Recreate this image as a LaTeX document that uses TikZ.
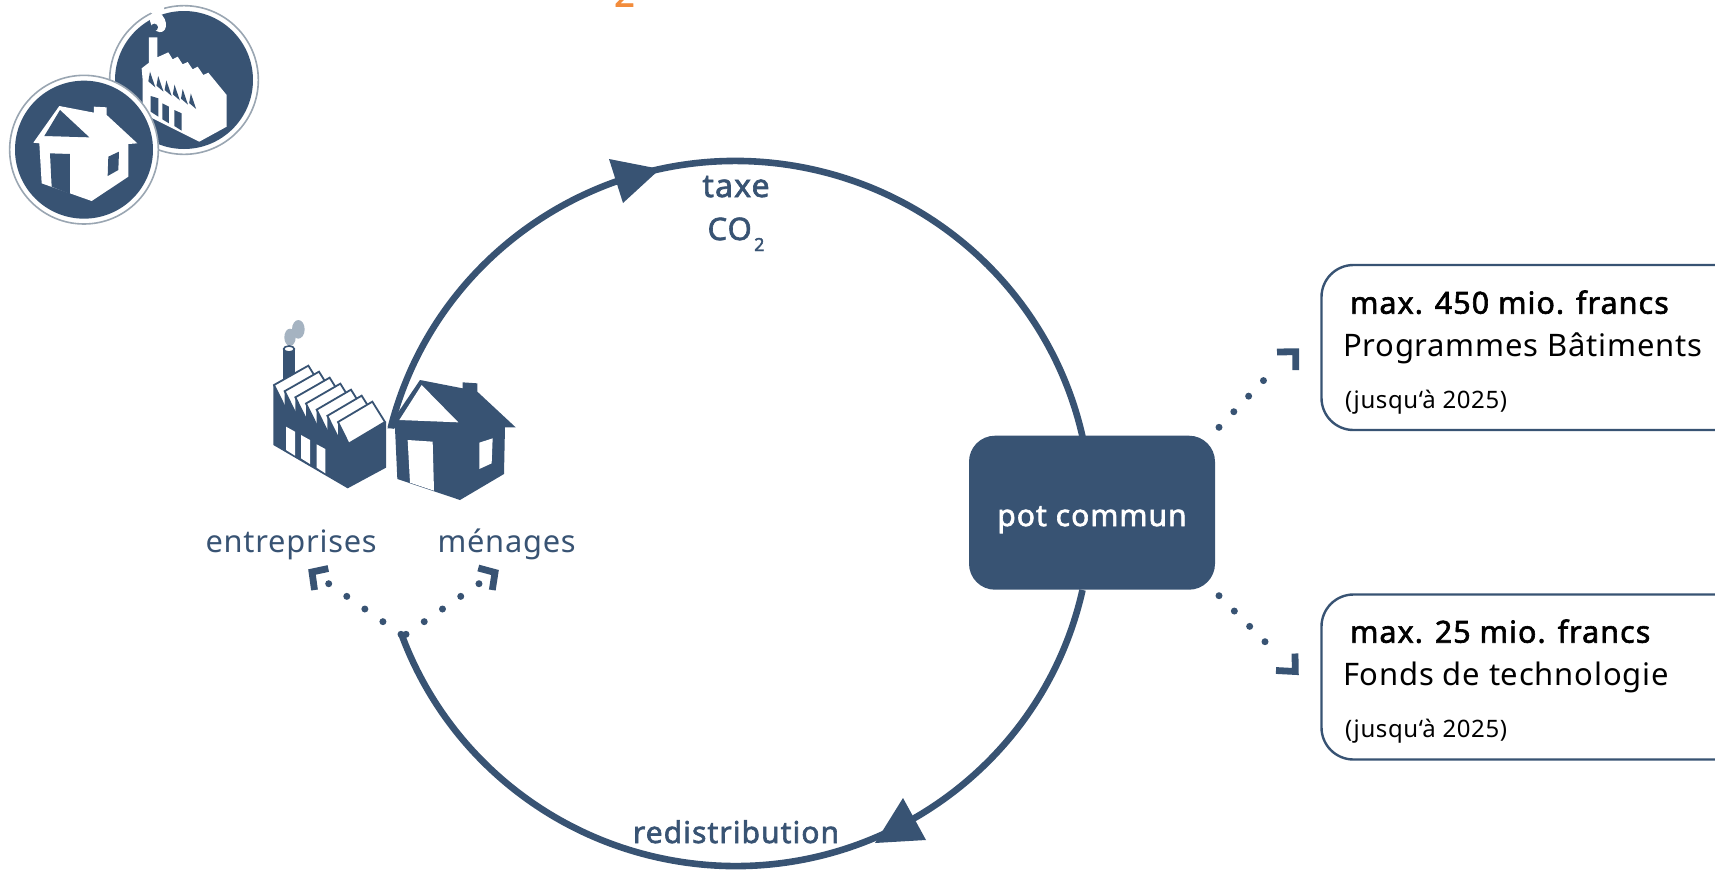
\documentclass[tikz,border=0pt]{standalone}
\usepackage{fontspec}
\setmainfont{Noto Sans}
\newfontfamily\boldish[FakeBold=2,LetterSpace=3.5]{Noto Sans}
\newfontfamily\plainsp[LetterSpace=2.5]{Noto Sans}
\definecolor{ink}{HTML}{385373}
\definecolor{smoke}{HTML}{A5B3C1}
\definecolor{ringgray}{HTML}{9AA6B2}
\definecolor{accent}{HTML}{F28C3C}
\newcommand{\fs}[1]{\fontsize{#1}{#1}\selectfont}
\tikzset{
  ring/.style={draw=ink,line width=3.3pt},
  dotlink/.style={draw=ink,line width=3.5pt,line cap=round,dash pattern=on 0pt off #1},
  cornertip/.style={draw=ink,line width=3.4pt,miter limit=10},
  headtip/.style={fill=ink},
  inkfill/.style={fill=ink},
  whitefill/.style={fill=white},
  label/.style={inner sep=0pt,outer sep=0pt,anchor=base},
  labelw/.style={inner sep=0pt,outer sep=0pt,anchor=base west},
  infobox/.style={draw=ink,line width=1.2pt,rounded corners=16pt,fill=white},
}
\begin{document}
\begin{tikzpicture}[x=0.5pt,y=-0.5pt]
\useasboundingbox (0,0) rectangle (1715,869);
% orange clipped digit
\node[label,text=accent,font=\boldish\fs{18}] (orange) at (624.5,6.5) {2};
% ring
\coordinate (ringA) at (390.7,428);
\coordinate (ringB) at (1082.5,590);
\node[inkfill,rounded corners=13pt,minimum width=123pt,minimum height=77pt,inner sep=0pt] (pot) at (1092,512.7) {};
\node[label,text=white,font=\boldish\fs{15}] (pottext) at (1092,526) {pot commun};
\draw[ring] (ringA) arc[start angle=194.04,end angle=347.38,x radius=355.5,y radius=352.5];
\draw[ring] (ringB) arc[start angle=12.53,end angle=160,x radius=355.5,y radius=352.5];
\fill[headtip] (609,159) -- (623,203) -- (660,169) -- cycle;
\fill[headtip] (903,798) -- (926,840) -- (875,843) -- cycle;
% ring labels
\node[label,text=ink,font=\boldish\fs{16}] (taxe) at (736,197) {taxe};
\node[label,text=ink,font=\boldish\fs{15.5}] (co) at (736,240) {CO\kern-1.5pt\raisebox{-5.5pt}{\boldish\fs{9} 2}};
\node[label,text=ink,font=\boldish\fs{15}] (redis) at (736,843) {redistribution};
% big factory
\begin{scope}[shift={(190,300)},scale=1/3]
  \fill[smoke] (300,112) ellipse[x radius=17,y radius=26];
  \fill[smoke] (325,88) ellipse[x radius=19,y radius=28];
  \fill[inkfill] (279,147) rectangle (315,245);
  \filldraw[fill=white,draw=ink,line width=0.8pt] (297,147) ellipse[x radius=16,y radius=9];
  \fill[inkfill] (250,255) -- (588,365) -- (588,503) -- (473,565) -- (250,435) -- cycle;
  \foreach \i in {0,...,6} {
    \filldraw[fill=white,draw=ink,line width=0.9pt,line join=miter]
      ({252+32*\i},{255+18.5*\i}) -- ({355+32*\i},{197+18*\i}) -- ({393+32*\i},{258+18*\i}) -- ({284+32*\i},{320+18.5*\i}) -- cycle;
    \ifnum\i<6
    \fill[inkfill] ({284+32*\i},{273.5+18.5*\i}) -- ({284+32*\i},{320+18.5*\i}) -- ({316+32*\i},{338.5+18.5*\i}) -- cycle;
    \fi
  }
  \fill[whitefill] (288,380) -- (315,395) -- (315,467) -- (288,450) -- cycle;
  \fill[whitefill] (333,405) -- (360,420) -- (360,492) -- (333,475) -- cycle;
  \fill[whitefill] (380,433) -- (406,447) -- (406,520) -- (380,503) -- cycle;
  % big house
  \fill[inkfill] (690,240) -- (818,265) -- (818,247) -- (862,250) -- (862,275) -- (977,382) -- (945,382) -- (942,522) -- (810,600) -- (622,537) -- (615,385) -- (592,385) -- cycle;
  \fill[whitefill] (628,360) -- (695,255) -- (805,367) -- cycle;
  \fill[whitefill] (653,420) -- (728,425) -- (732,572) -- (660,548) -- cycle;
  \fill[whitefill] (868,428) -- (908,415) -- (905,490) -- (868,507) -- cycle;
\end{scope}
% labels left
\node[labelw,text=ink,font=\plainsp\fs{15.4}] (ent) at (205.5,552) {entreprises};
\node[labelw,text=ink,font=\plainsp\fs{15.4}] (men) at (437.5,552) {ménages};
% dotted connectors
\coordinate (forkL) at (401,634.3);
\coordinate (forkR) at (406,634.3);
\coordinate (endL) at (328.7,583.7);
\coordinate (endR) at (479,583.7);
\draw[dotlink=11.03pt] (forkL) -- (endL);
\draw[dotlink=11.1pt] (forkR) -- (endR);
\coordinate (potU) at (1219,427.3);
\coordinate (potD) at (1219,595.7);
\coordinate (endU) at (1278,365.3);
\coordinate (endD) at (1280.3,657);
\draw[dotlink=10.75pt] (potU) -- (endU);
\draw[dotlink=10.84pt] (potD) -- (endD);
\draw[cornertip] (328.3,568.5) -- (312,572) -- (314.5,590);
\draw[cornertip] (478.3,568) -- (495,572.5) -- (492.3,590);
\draw[cornertip] (1277,352) -- (1295.7,351.7) -- (1295.7,370);
\draw[cornertip] (1295,653.5) -- (1295.3,671.5) -- (1276,670.5);
% info boxes
\node[infobox,minimum width=220pt,minimum height=82.5pt,inner sep=0pt] (boxA) at (1541.5,347.5) {};
\node[infobox,minimum width=220pt,minimum height=82.5pt,inner sep=0pt] (boxB) at (1541.5,677) {};
\node[labelw,font=\boldish\fs{15.2}] (a1) at (1350,313.7) {max. 450 mio. francs};
\node[labelw,font=\plainsp\fs{15.5}] (a2) at (1343,356.7) {Programmes Bâtiments};
\node[labelw,font=\plainsp\fs{12}] (a3) at (1345,408.7) {(jusqu‘à 2025)};
\node[labelw,font=\boldish\fs{15.2}] (b1) at (1350,642.7) {max. 25 mio. francs};
\node[labelw,font=\plainsp\fs{15.5}] (b2) at (1343,685.7) {Fonds de technologie};
\node[labelw,font=\plainsp\fs{12}] (b3) at (1345,737.7) {(jusqu‘à 2025)};
% logo
\begin{scope}[scale=1/3]
  % factory disc
  \filldraw[fill=white,draw=ringgray,line width=0.8pt] (552,240) circle[radius=223];
  \fill[inkfill] (552,240) circle[radius=207];
  \fill[whitefill] (452,8) rectangle (492,40);
  \fill[whitefill,rotate around={25:(474,66)}] (474,66) ellipse[x radius=22,y radius=32];
  \fill[inkfill] (463,82) circle[radius=11];
  \fill[whitefill] (425,205) -- (447,188) -- (447,112) -- (472,112) -- (472,172) -- (505,157) -- (518,178) -- (533,170) -- (548,193) -- (563,186) -- (578,208) -- (593,200) -- (610,225) -- (625,218) -- (680,285) -- (680,380) -- (598,425) -- (428,340) -- (428,240) -- cycle;
  \foreach \i in {0,...,5} {
    \fill[inkfill] ({450+24.5*\i},{215+13*\i}) -- ({466+24.5*\i},{262+13*\i}) -- ({445+24.5*\i},{244+13*\i}) -- cycle;
  }
  \fill[inkfill] (452,288) -- (475,295) -- (475,350) -- (452,335) -- cycle;
  \fill[inkfill] (487,310) -- (507,320) -- (507,370) -- (487,358) -- cycle;
  \fill[inkfill] (523,330) -- (545,340) -- (545,392) -- (523,378) -- cycle;
  % house disc
  \filldraw[fill=white,draw=ringgray,line width=0.8pt] (252,449) circle[radius=223];
  \fill[inkfill] (252,449) circle[radius=207];
  \fill[whitefill] (178,318) -- (282,338) -- (282,320) -- (320,322) -- (320,345) -- (412,430) -- (385,432) -- (385,530) -- (275,603) -- (125,550) -- (118,430) -- (100,428) -- cycle;
  \fill[inkfill] (133,408) -- (180,330) -- (268,412) -- cycle;
  \fill[inkfill] (150,460) -- (210,462) -- (210,582) -- (155,560) -- cycle;
  \fill[inkfill] (325,470) -- (357,455) -- (355,510) -- (323,528) -- cycle;
\end{scope}
\end{tikzpicture}
\end{document}
